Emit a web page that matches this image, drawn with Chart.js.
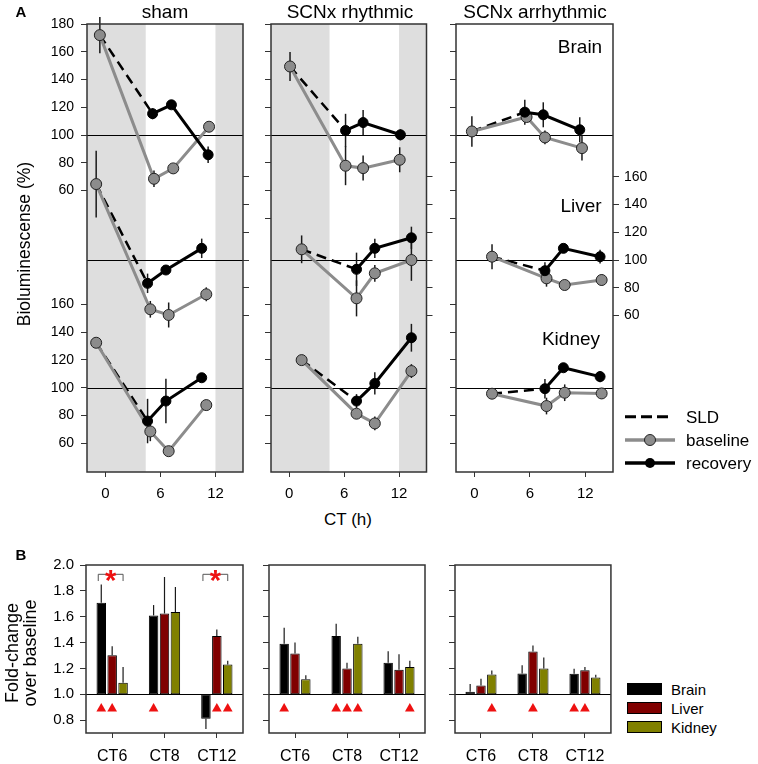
<!DOCTYPE html>
<html><head><meta charset="utf-8">
<script src="https://cdn.jsdelivr.net/npm/chart.js@4/dist/chart.umd.min.js"></script>
<style>
body{margin:0;background:#fff;width:758px;height:764px;position:relative;overflow:hidden;font-family:"Liberation Sans",Arial,sans-serif;color:#000;}
canvas{position:absolute;}
.t{position:absolute;line-height:1;white-space:nowrap;transform:translate(-50%,-50%);}
.r{position:absolute;line-height:1;white-space:nowrap;transform:translate(-50%,-50%) rotate(-90deg);}
.l{position:absolute;line-height:1;white-space:nowrap;transform:translate(0,-50%);}
.sw{position:absolute;width:33px;height:10px;border:1px solid #000;}
</style></head><body>

<canvas id="a1" width="252" height="505" style="left:0px;top:0px;width:252px;height:505px"></canvas>
<canvas id="a2" width="181" height="505" style="left:252px;top:0px;width:181px;height:505px"></canvas>
<canvas id="a3" width="224" height="505" style="left:434px;top:0px;width:224px;height:505px"></canvas>
<canvas id="b1" width="250" height="224" style="left:0px;top:540px;width:250px;height:224px"></canvas>
<canvas id="b2" width="180" height="224" style="left:250px;top:540px;width:180px;height:224px"></canvas>
<canvas id="b3" width="180" height="224" style="left:434px;top:540px;width:180px;height:224px"></canvas>

<div class="t" style="left:21px;top:11px;font-size:15px;font-weight:bold">A</div>
<div class="t" style="left:165px;top:10.5px;font-size:19px">sham</div>
<div class="t" style="left:350px;top:10.5px;font-size:19px">SCNx rhythmic</div>
<div class="t" style="left:535px;top:10.5px;font-size:19px">SCNx arrhythmic</div>
<div class="t" style="left:580px;top:46px;font-size:19px">Brain</div>
<div class="t" style="left:581px;top:204.5px;font-size:19px">Liver</div>
<div class="t" style="left:571px;top:338px;font-size:19px">Kidney</div>
<div class="t" style="left:348px;top:519px;font-size:17px">CT (h)</div>
<div class="r" style="left:25px;top:244px;font-size:17.5px">Bioluminescense (%)</div>

<svg style="position:absolute;left:620px;top:405px" width="62" height="70">
  <line x1="5" y1="11.7" x2="50" y2="11.7" stroke="#000" stroke-width="3" stroke-dasharray="11,5"/>
  <line x1="5" y1="35" x2="55" y2="35" stroke="#8c8c8c" stroke-width="3.5"/>
  <circle cx="30" cy="35" r="5.5" fill="#8c8c8c" stroke="#222" stroke-width="1"/>
  <line x1="5" y1="58" x2="55" y2="58" stroke="#000" stroke-width="3.5"/>
  <circle cx="30" cy="58" r="5" fill="#000"/>
</svg>
<div class="l" style="left:686px;top:417px;font-size:17px">SLD</div>
<div class="l" style="left:686px;top:440px;font-size:17px">baseline</div>
<div class="l" style="left:686px;top:463px;font-size:17px">recovery</div>

<div class="t" style="left:21px;top:554px;font-size:15px;font-weight:bold">B</div>
<div class="r" style="left:11.5px;top:652.5px;font-size:18px">Fold-change</div>
<div class="r" style="left:29.5px;top:652.5px;font-size:18px">over baseline</div>

<div class="sw" style="left:627px;top:683px;background:#000"></div>
<div class="sw" style="left:627px;top:702px;background:#800000"></div>
<div class="sw" style="left:627px;top:721px;background:#808000"></div>
<div class="l" style="left:671px;top:689px;font-size:15px">Brain</div>
<div class="l" style="left:671px;top:708px;font-size:15px">Liver</div>
<div class="l" style="left:671px;top:727px;font-size:15px">Kidney</div>

<script>
// ---------------- DATA (panel A): [CT (h), bioluminescence %, error] ----------------
const shamBrainBaseline   = [[-0.6,172,13],[5.3,68.5,6],[7.4,76,0],[11.3,106,0]];
const shamBrainRecovery   = [[5.15,115.4,4],[7.2,121.8,0],[11.2,85.8,6]];
const shamLiverBaseline   = [[-1.0,154.7,24],[4.9,64.5,6],[6.9,60.4,9],[11.0,75.3,5]];
const shamLiverRecovery   = [[4.6,83.2,7],[6.6,92.8,0],[10.5,108.4,7]];
const shamKidneyBaseline  = [[-1.0,132.4,0],[4.9,68.5,7],[6.9,54.3,0],[11.0,87.5,0]];
const shamKidneyRecovery  = [[4.6,76,16],[6.6,90.4,16],[10.5,107.2,0]];

const rhyBrainBaseline    = [[0.08,149.4,10.5],[6.15,77.9,14],[8.07,76.2,9],[12.07,82.2,9]];
const rhyBrainRecovery    = [[6.15,103.3,12],[8.07,109,9],[12.15,100.2,4]];
const rhyLiverBaseline    = [[1.35,107.7,10],[7.35,72.4,13],[9.35,90.4,6],[13.35,100,15]];
const rhyLiverRecovery    = [[7.35,93.3,12],[9.35,108.4,7],[13.35,116,8]];
const rhyKidneyBaseline   = [[1.35,119.9,0],[7.35,81.3,0],[9.35,74.3,5],[13.35,112,5]];
const rhyKidneyRecovery   = [[7.35,90.4,5],[9.35,103.1,8],[13.35,136,10]];

const arrBrainBaseline    = [[-0.28,102.6,11],[5.64,113,0],[7.63,98.3,5],[11.64,90.6,9]];
const arrBrainRecovery    = [[5.45,116.5,9],[7.45,114.6,9],[11.4,103.8,9]];
const arrLiverBaseline    = [[1.9,102.4,9],[7.8,86.8,6],[9.77,82,0],[13.77,85.6,4]];
const arrLiverRecovery    = [[7.63,92.3,6],[9.63,108.4,0],[13.6,102.4,5]];
const arrKidneyBaseline   = [[1.9,95.7,0],[7.8,86.8,6],[9.77,96.4,6],[13.77,95.9,4]];
const arrKidneyRecovery   = [[7.63,99.3,7],[9.63,114.4,0],[13.6,108,4]];

const shamNight = [[-2,4.4],[12,15]];
const rhyNight  = [[-2,4.4],[12,15]];
const arrNight  = [];

const ctTicks = [0, 6, 12];
const brainAxisTicks  = [60,80,100,120,140,160,180];
const liverAxisTicks  = [60,80,100,120,140,160];
const kidneyAxisTicks = [60,80,100,120,140,160];
const brainMinorTicks = [40];

// ---------------- DATA (panel B): fold-change over baseline ----------------
const bCategories = ['CT6','CT8','CT12'];
const bTicks = [0.8,1.0,1.2,1.4,1.6,1.8,2.0];
const shamBrain  = [1.708,1.61,0.81],  shamBrainErr  = [0.142,0.08,0.08];
const shamLiver  = [1.302,1.625,1.45], shamLiverErr  = [0.07,0.282,0.05];
const shamKidney = [1.088,1.636,1.23], shamKidneyErr = [0.122,0.194,0.03];
const rhyBrain   = [1.39,1.45,1.243],  rhyBrainErr   = [0.125,0.096,0.09];
const rhyLiver   = [1.316,1.2,1.19],   rhyLiverErr   = [0.084,0.043,0.12];
const rhyKidney  = [1.116,1.39,1.21],  rhyKidneyErr  = [0.031,0.055,0.05];
const arrBrain   = [1.02,1.16,1.158],  arrBrainErr   = [0.06,0.065,0.039];
const arrLiver   = [1.067,1.33,1.186], arrLiverErr   = [0.053,0.048,0.024];
const arrKidney  = [1.153,1.2,1.13],   arrKidneyErr  = [0.031,0.085,0.02];
// significance vs baseline (red triangles)
const shamBrainSig = [1,1,0], shamLiverSig = [1,0,1], shamKidneySig = [0,0,1];
const rhyBrainSig  = [1,1,0], rhyLiverSig  = [0,1,0], rhyKidneySig  = [0,1,1];
const arrBrainSig  = [0,0,1], arrLiverSig  = [0,1,1], arrKidneySig  = [1,0,0];
// brain vs kidney comparisons (asterisks), by category index
const shamStars = [0, 2];

// ---------------- SETUP ----------------
Chart.defaults.font.family = '"Liberation Sans", Arial, sans-serif';
Chart.defaults.color = '#000';

const organShift = {Brain: 0, Liver: -90, Kidney: -182};
const organColor = {Brain: '#000000', Liver: '#800000', Kidney: '#808000'};
const A_MIN = -142.7, A_MAX = 180;
const B_MIN = 0.7, B_MAX = 2.0;
const sigLevel = 0.888, bracketLevel = 1.928, bracketLeg = 1.876;

const decor = {
  id: 'decor',
  beforeDatasetsDraw(chart, args, o) {
    const {ctx, chartArea: a, scales} = chart;
    ctx.save();
    if (o.shade) {
      ctx.fillStyle = '#dedede';
      for (const [x0, x1] of o.shade) {
        const p0 = scales.x.getPixelForValue(x0), p1 = scales.x.getPixelForValue(x1);
        ctx.fillRect(p0, a.top, p1 - p0, a.bottom - a.top);
      }
    }
    if (o.refs) {
      ctx.strokeStyle = '#000'; ctx.lineWidth = 1;
      for (const v of o.refs) {
        const y = Math.round(scales.y.getPixelForValue(v)) + 0.5;
        ctx.beginPath(); ctx.moveTo(a.left, y); ctx.lineTo(a.right, y); ctx.stroke();
      }
    }
    // error bars
    ctx.strokeStyle = '#1a1a1a'; ctx.lineWidth = o.errWidth || 1.5;
    chart.data.datasets.forEach((ds, i) => {
      if (!ds.errs) return;
      const meta = chart.getDatasetMeta(i);
      ds.errs.forEach((e, j) => {
        if (!e) return;
        const el = meta.data[j];
        let v, lo, hi;
        if (o.errMode === 'away') {
          v = ds.data[j][1];
          const dir = v >= 1 ? 1 : -1;
          lo = scales.y.getPixelForValue(v);
          hi = scales.y.getPixelForValue(v + dir * e);
        } else {
          v = ds.data[j].y;
          lo = scales.y.getPixelForValue(v - e);
          hi = scales.y.getPixelForValue(v + e);
        }
        ctx.beginPath(); ctx.moveTo(el.x, lo); ctx.lineTo(el.x, hi); ctx.stroke();
      });
    });
    ctx.restore();
  },
  afterDatasetsDraw(chart, args, o) {
    const {ctx, scales} = chart;
    ctx.save();
    // significance triangles
    chart.data.datasets.forEach((ds, i) => {
      if (!ds.sig) return;
      const meta = chart.getDatasetMeta(i);
      const y = scales.y.getPixelForValue(sigLevel), r = 5.6;
      ctx.fillStyle = '#ee1111';
      ds.sig.forEach((s, j) => {
        if (!s) return;
        const x = meta.data[j].x;
        ctx.beginPath();
        ctx.moveTo(x, y - r); ctx.lineTo(x + 0.866 * r, y + r / 2); ctx.lineTo(x - 0.866 * r, y + r / 2);
        ctx.closePath(); ctx.fill();
      });
    });
    if (o.stars) {
      const m0 = chart.getDatasetMeta(0), m2 = chart.getDatasetMeta(2);
      const yb = scales.y.getPixelForValue(bracketLevel), yl = scales.y.getPixelForValue(bracketLeg);
      for (const j of o.stars) {
        const x0 = m0.data[j].x - 3, x1 = m2.data[j].x;
        ctx.strokeStyle = '#555'; ctx.lineWidth = 1;
        ctx.beginPath(); ctx.moveTo(x0, yl); ctx.lineTo(x0, yb); ctx.lineTo(x1, yb); ctx.lineTo(x1, yl); ctx.stroke();
        ctx.fillStyle = '#ee1111'; ctx.font = 'bold 29px "Liberation Sans", Arial, sans-serif';
        ctx.textAlign = 'center'; ctx.textBaseline = 'alphabetic';
        ctx.fillText('*', (x0 + x1) / 2, yb + 16);
      }
    }
    ctx.restore();
  },
  afterDraw(chart) {
    const {ctx, chartArea: a} = chart;
    ctx.save(); ctx.strokeStyle = '#333'; ctx.lineWidth = 1.5;
    ctx.strokeRect(a.left, a.top, a.right - a.left, a.bottom - a.top);
    ctx.restore();
  }
};

function organDatasets(organ, baseline, recovery) {
  const sh = organShift[organ];
  const pts = s => s.map(([ct, v]) => ({x: ct, y: v + sh}));
  const errs = s => s.map(p => p[2]);
  const b = pts(baseline), r = pts(recovery);
  return [
    {label: organ + ' recovery', data: r, errs: errs(recovery), showLine: true, borderColor: '#000', borderWidth: 3,
     pointRadius: 5, pointBackgroundColor: '#000', pointBorderColor: '#000', pointBorderWidth: 1, order: 0},
    {label: organ + ' baseline', data: b, errs: errs(baseline), showLine: true, borderColor: '#8c8c8c', borderWidth: 3,
     pointRadius: 5.5, pointBackgroundColor: '#8c8c8c', pointBorderColor: '#222', pointBorderWidth: 1, order: 1},
    {label: organ + ' SLD', data: [b[0], r[0]], showLine: true, borderColor: '#000', borderWidth: 2.5,
     borderDash: [10, 6], pointRadius: 0, order: 2}
  ];
}

function panelA(id, series, night, geo) {
  const leftTicks = [
    ...brainAxisTicks.map(v => ({u: v + organShift.Brain, t: geo.leftLabels ? String(v) : ''})),
    ...kidneyAxisTicks.map(v => ({u: v + organShift.Kidney, t: geo.leftLabels ? String(v) : ''})),
    ...(geo.minor ? brainMinorTicks.map(v => ({u: v, t: ''})) : [])
  ];
  const rightTicks = liverAxisTicks.map(v => ({u: v + organShift.Liver, t: geo.rightLabels ? String(v) : ''}));
  const lmap = new Map(leftTicks.map(o => [o.u, o.t]));
  const rmap = new Map(rightTicks.map(o => [o.u, o.t]));
  const datasets = [
    ...organDatasets('Brain', series[0], series[1]),
    ...organDatasets('Liver', series[2], series[3]),
    ...organDatasets('Kidney', series[4], series[5])
  ];
  new Chart(document.getElementById(id), {
    type: 'scatter',
    data: {datasets},
    options: {
      responsive: false, animation: false,
      layout: {padding: {top: 24, left: 0, right: geo.padR, bottom: 0}},
      plugins: {legend: {display: false}, tooltip: {enabled: false},
        decor: {shade: night, refs: [100 + organShift.Brain, 100 + organShift.Liver, 100 + organShift.Kidney], errMode: 'both', errWidth: 1.5}},
      scales: {
        x: {type: 'linear', position: 'bottom', min: -2, max: 15,
          afterBuildTicks: s => { s.ticks = ctTicks.map(v => ({value: v})); },
          afterFit: s => { s.height = 33; },
          ticks: {font: {size: 15}, padding: 8, maxRotation: 0, color: '#000'},
          grid: {drawOnChartArea: false, tickLength: 5, color: '#333'}, border: {display: false}},
        y: {type: 'linear', position: 'left', min: A_MIN, max: A_MAX,
          afterBuildTicks: s => { s.ticks = leftTicks.map(o => ({value: o.u})); },
          afterFit: s => { s.width = geo.leftW; },
          ticks: {font: {size: 14}, padding: 7, color: '#000', callback: v => lmap.get(v) ?? ''},
          grid: {drawOnChartArea: false, tickLength: 6, color: '#333'}, border: {display: false}},
        y2: {type: 'linear', position: 'right', min: A_MIN, max: A_MAX,
          afterBuildTicks: s => { s.ticks = rightTicks.map(o => ({value: o.u})); },
          afterFit: s => { s.width = geo.rightW; },
          ticks: {font: {size: 14}, padding: 5, color: '#000', callback: v => rmap.get(v) ?? ''},
          grid: {drawOnChartArea: false, tickLength: 6, color: '#333'}, border: {display: false}}
      }
    },
    plugins: [decor]
  });
}

panelA('a1', [shamBrainBaseline, shamBrainRecovery, shamLiverBaseline, shamLiverRecovery, shamKidneyBaseline, shamKidneyRecovery],
  shamNight, {leftW: 87, rightW: 6, padR: 3, leftLabels: true, rightLabels: false, minor: false});
panelA('a2', [rhyBrainBaseline, rhyBrainRecovery, rhyLiverBaseline, rhyLiverRecovery, rhyKidneyBaseline, rhyKidneyRecovery],
  rhyNight, {leftW: 19, rightW: 6, padR: 0, leftLabels: false, rightLabels: false, minor: true});
panelA('a3', [arrBrainBaseline, arrBrainRecovery, arrLiverBaseline, arrLiverRecovery, arrKidneyBaseline, arrKidneyRecovery],
  arrNight, {leftW: 22, rightW: 40, padR: 5, leftLabels: false, rightLabels: true, minor: true});

function panelB(id, vals, errs, sigs, stars, geo) {
  const organs = ['Brain', 'Liver', 'Kidney'];
  const datasets = organs.map((org, k) => ({
    label: org, data: vals[k].map(v => [1, v]), errs: errs[k], sig: sigs[k],
    backgroundColor: organColor[org], borderColor: '#000', borderWidth: 1, borderSkipped: false,
    categoryPercentage: 0.625, barPercentage: 0.87
  }));
  new Chart(document.getElementById(id), {
    type: 'bar',
    data: {labels: bCategories, datasets},
    options: {
      responsive: false, animation: false,
      layout: {padding: {top: 25, left: 0, right: geo.padR, bottom: 0}},
      plugins: {legend: {display: false}, tooltip: {enabled: false},
        decor: {refs: [1], errMode: 'away', errWidth: 1.2, stars}},
      scales: {
        x: {afterFit: s => { s.height = 31; },
          ticks: {font: {size: 16}, padding: 9, maxRotation: 0, color: '#000'},
          grid: {offset: false, drawOnChartArea: false, tickLength: 5, color: '#333'}, border: {display: false}},
        y: {type: 'linear', min: B_MIN, max: B_MAX,
          afterBuildTicks: s => { s.ticks = bTicks.map(v => ({value: v})); },
          afterFit: s => { s.width = geo.leftW; },
          ticks: {font: {size: 15}, padding: 6, color: '#000', callback: v => geo.labels ? v.toFixed(1) : ''},
          grid: {drawOnChartArea: false, tickLength: 6, color: '#333'}, border: {display: false}}
      }
    },
    plugins: [decor]
  });
}

panelB('b1', [shamBrain, shamLiver, shamKidney], [shamBrainErr, shamLiverErr, shamKidneyErr],
  [shamBrainSig, shamLiverSig, shamKidneySig], shamStars, {leftW: 86, padR: 7, labels: true});
panelB('b2', [rhyBrain, rhyLiver, rhyKidney], [rhyBrainErr, rhyLiverErr, rhyKidneyErr],
  [rhyBrainSig, rhyLiverSig, rhyKidneySig], null, {leftW: 19, padR: 5, labels: false});
panelB('b3', [arrBrain, arrLiver, arrKidney], [arrBrainErr, arrLiverErr, arrKidneyErr],
  [arrBrainSig, arrLiverSig, arrKidneySig], null, {leftW: 21, padR: 3, labels: false});
</script>
</body></html>
